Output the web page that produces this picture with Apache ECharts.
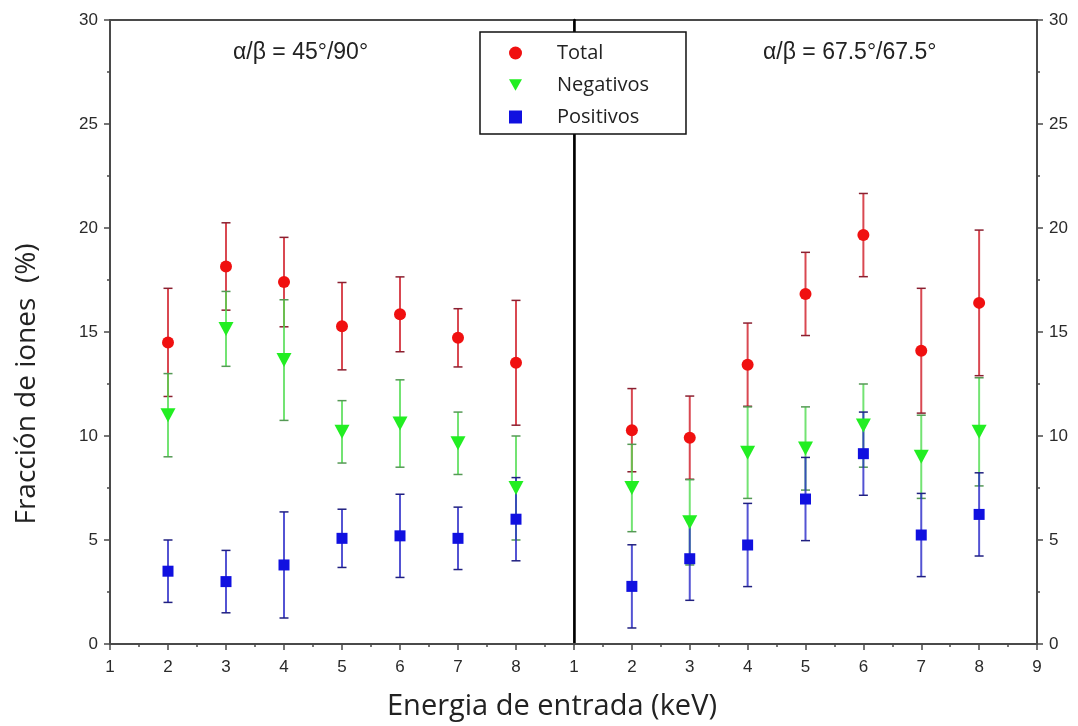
<!DOCTYPE html>
<html>
<head>
<meta charset="utf-8">
<script src="https://cdn.jsdelivr.net/npm/echarts@6/dist/echarts.min.js"></script>
<style>
html,body{margin:0;padding:0;background:#fff;}
#chart{width:1078px;height:726px;}
</style>
</head>
<body>
<div id="chart"></div>
<script>
// ---- data ----
const energies = [2, 3, 4, 5, 6, 7, 8];
const xTicks = [1, 2, 3, 4, 5, 6, 7, 8, 9];
const yTicks = [0, 5, 10, 15, 20, 25, 30];

// Panel alpha/beta = 45/90
const total45 = [14.5, 18.15, 17.4, 15.28, 15.85, 14.72, 13.52];
const totalErr45 = [2.6, 2.1, 2.15, 2.1, 1.8, 1.4, 3.0];
const neg45 = [11.0, 15.15, 13.65, 10.2, 10.6, 9.65, 7.5];
const negErr45 = [2.0, 1.8, 2.9, 1.5, 2.1, 1.5, 2.5];
const pos45 = [3.5, 3.0, 3.8, 5.08, 5.2, 5.08, 6.0];
const posErr45 = [1.5, 1.5, 2.55, 1.4, 2.0, 1.5, 2.0];

// Panel alpha/beta = 67.5/67.5
const total675 = [10.28, 9.92, 13.43, 16.83, 19.66, 14.1, 16.4];
const totalErr675 = [2.0, 2.0, 2.0, 2.0, 2.0, 3.0, 3.5];
const neg675 = [7.5, 5.85, 9.2, 9.4, 10.5, 9.0, 10.2];
const negErr675 = [2.1, 2.05, 2.2, 2.0, 2.0, 2.0, 2.6];
const pos675 = [2.77, 4.1, 4.76, 6.97, 9.15, 5.24, 6.23];
const posErr675 = [2.0, 2.0, 2.0, 2.0, 2.0, 2.0, 2.0];

const seriesNames = ['Total', 'Negativos', 'Positivos'];
const panelLabels = ['\u03b1/\u03b2 = 45\u00b0/90\u00b0', '\u03b1/\u03b2 = 67.5\u00b0/67.5\u00b0'];
const xTitle = 'Energia de entrada (keV)';
const yTitle = 'Fracción de iones  (%)';

// ---- styles ----
const colors = {Total: '#f01010', Negativos: '#22ee22', Positivos: '#1010e0'};
const barColors = {Total: 'rgba(210,40,50,0.85)', Negativos: 'rgba(80,220,80,0.8)', Positivos: 'rgba(40,40,200,0.8)'};
const capColors = {Total: '#8a2030', Negativos: '#559955', Positivos: '#202080'};
const symbols = {
  Total: 'circle',
  Negativos: 'path://M0,0 L10,0 L5,9 Z',
  Positivos: 'rect'
};
const symbolSizes = {Total: 12, Negativos: [15, 14], Positivos: 11};

const chart = echarts.init(document.getElementById('chart'), null, {renderer: 'canvas'});

function pts(vals) { return energies.map((e, i) => [e, vals[i]]); }
function errs(vals, err) { return energies.map((e, i) => [e, vals[i] - err[i], vals[i] + err[i]]); }

function errSeries(name, vals, err, axisIdx) {
  return {
    type: 'custom',
    name: name + '_err' + axisIdx,
    xAxisIndex: axisIdx,
    yAxisIndex: axisIdx,
    data: errs(vals, err),
    encode: {x: 0, y: [1, 2]},
    z: 2,
    silent: true,
    renderItem: function (params, api) {
      const x = api.value(0), lo = api.value(1), hi = api.value(2);
      const p1 = api.coord([x, hi]);
      const p2 = api.coord([x, lo]);
      const w = 4.5;
      return {
        type: 'group',
        children: [
          {type: 'line', shape: {x1: p1[0], y1: p1[1], x2: p2[0], y2: p2[1]}, style: {stroke: barColors[name], lineWidth: 2}},
          {type: 'line', shape: {x1: p1[0] - w, y1: p1[1], x2: p1[0] + w, y2: p1[1]}, style: {stroke: capColors[name], lineWidth: 1.5}},
          {type: 'line', shape: {x1: p2[0] - w, y1: p2[1], x2: p2[0] + w, y2: p2[1]}, style: {stroke: capColors[name], lineWidth: 1.5}}
        ]
      };
    }
  };
}

function scatterSeries(name, vals, axisIdx) {
  return {
    type: 'scatter',
    name: name,
    xAxisIndex: axisIdx,
    yAxisIndex: axisIdx,
    data: pts(vals),
    symbol: symbols[name],
    symbolSize: symbolSizes[name],
    itemStyle: {color: colors[name], opacity: 1},
    z: 5
  };
}

const panels = [
  {Total: [total45, totalErr45], Negativos: [neg45, negErr45], Positivos: [pos45, posErr45]},
  {Total: [total675, totalErr675], Negativos: [neg675, negErr675], Positivos: [pos675, posErr675]}
];

const series = [];
panels.forEach((p, idx) => {
  seriesNames.forEach(n => series.push(errSeries(n, p[n][0], p[n][1], idx)));
});
panels.forEach((p, idx) => {
  seriesNames.forEach(n => series.push(scatterSeries(n, p[n][0], idx)));
});

const frameColor = '#4a4a4a';
const labelFont = {color: '#2a2a2a', fontSize: 17, fontFamily: 'Liberation Sans, Arial, sans-serif'};

function xAxisCfg(grid) {
  return {
    type: 'value', gridIndex: grid,
    min: xTicks[0], max: xTicks[xTicks.length - 1], interval: 1,
    axisLine: {show: true, lineStyle: {color: frameColor, width: 2}},
    axisTick: {show: true, length: 6, lineStyle: {color: frameColor, width: 1.5}},
    minorTick: {show: true, splitNumber: 2, length: 3, lineStyle: {color: frameColor, width: 1.5}},
    axisLabel: Object.assign({margin: 15, showMaxLabel: grid === 1, showMinLabel: true}, labelFont),
    splitLine: {show: false}
  };
}
function yAxisCfg(grid, position, showLabels, lineColor, lineWidth) {
  return {
    type: 'value', gridIndex: grid, position: position,
    min: yTicks[0], max: yTicks[yTicks.length - 1], interval: 5,
    axisLine: {show: true, lineStyle: {color: lineColor, width: lineWidth}},
    axisTick: {show: showLabels, length: 6, lineStyle: {color: frameColor, width: 1.5}},
    minorTick: {show: showLabels, splitNumber: 2, length: 3, lineStyle: {color: frameColor, width: 1.5}},
    axisLabel: Object.assign({show: showLabels, margin: 12}, labelFont),
    splitLine: {show: false}
  };
}

const option = {
  backgroundColor: '#ffffff',
  animation: false,
  grid: [
    {left: 110, top: 20, width: 464, height: 624, show: true, borderColor: frameColor, borderWidth: 2, backgroundColor: 'transparent'},
    {left: 574, top: 20, width: 463, height: 624, show: true, borderColor: frameColor, borderWidth: 2, backgroundColor: 'transparent'}
  ],
  xAxis: [xAxisCfg(0), xAxisCfg(1)],
  yAxis: [
    yAxisCfg(0, 'left', true, frameColor, 2),
    yAxisCfg(1, 'right', true, frameColor, 2),
    yAxisCfg(1, 'left', false, '#000000', 2.5)
  ],
  legend: {
    data: seriesNames.map(n => ({name: n, icon: symbols[n]})),
    orient: 'vertical',
    left: 480, top: 32,
    padding: [11, 37, 7, 29],
    itemWidth: 13, itemHeight: 13,
    itemGap: 12,
    backgroundColor: '#ffffff',
    borderColor: '#111111',
    borderWidth: 1.5,
    borderRadius: 0,
    selectedMode: false,
    textStyle: {color: '#222', fontSize: 20, fontFamily: 'Open Sans, sans-serif', lineHeight: 20, padding: [0, 0, 0, 30]},
    z: 20
  },
  graphic: [
    {type: 'text', left: 233, top: 41, z: 30, style: {text: panelLabels[0], fill: '#222', font: '23px "Liberation Sans", Arial, sans-serif'}},
    {type: 'text', left: 763, top: 41, z: 30, style: {text: panelLabels[1], fill: '#222', font: '23px "Liberation Sans", Arial, sans-serif'}},
    {type: 'text', x: 552, y: 707, z: 30, style: {text: xTitle, fill: '#222', font: '29px "Open Sans", sans-serif', textAlign: 'center', textVerticalAlign: 'middle'}},
    {type: 'text', x: 27, y: 384, rotation: Math.PI / 2, z: 30, style: {text: yTitle, fill: '#222', font: '28px "Open Sans", sans-serif', textAlign: 'center', textVerticalAlign: 'middle'}}
  ],
  series: series
};
chart.setOption(option);
</script>
</body>
</html>
